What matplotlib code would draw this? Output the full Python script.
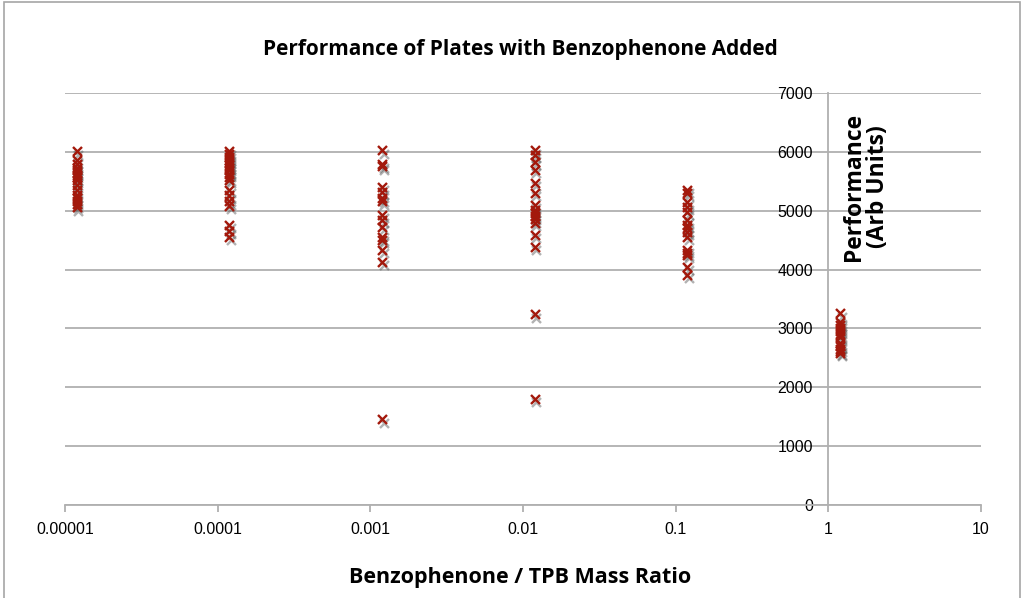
import matplotlib
matplotlib.use("Agg")
import matplotlib.pyplot as plt
import matplotlib.patheffects as pe
from matplotlib.patches import Rectangle
import numpy as np

ratios = [1.2e-5, 1.2e-4, 1.2e-3, 1.2e-2, 0.12, 1.2]
perf_1e5 = [6000, 5850, 5780, 5720, 5680, 5640, 5600, 5560, 5520, 5430, 5350, 5260, 5200, 5150, 5100, 5050]
perf_1e4 = [6000, 5950, 5900, 5850, 5800, 5760, 5720, 5680, 5620, 5560, 5520, 5350, 5250, 5150, 5080, 4750, 4650, 4550]
perf_1e3 = [6020, 5780, 5750, 5400, 5310, 5200, 5150, 4920, 4840, 4720, 4540, 4500, 4330, 4125, 1450]
perf_1e2 = [6020, 5940, 5820, 5690, 5470, 5300, 5090, 5010, 4950, 4900, 4850, 4790, 4580, 4380, 3230, 1800]
perf_1e1 = [5350, 5300, 5140, 5060, 4975, 4840, 4750, 4690, 4630, 4550, 4330, 4280, 4245, 4040, 3900]
perf_1e0 = [3250, 3100, 3050, 3000, 2950, 2900, 2850, 2750, 2700, 2650, 2600, 2580]
groups = [perf_1e5, perf_1e4, perf_1e3, perf_1e2, perf_1e1, perf_1e0]

xticks = [1e-5, 1e-4, 1e-3, 1e-2, 1e-1, 1, 10]
xticklabels = ["0.00001", "0.0001", "0.001", "0.01", "0.1", "1", "10"]
yticks = [0, 1000, 2000, 3000, 4000, 5000, 6000, 7000]

W, H = 1021, 598
fig = plt.figure(figsize=(W / 100, H / 100), dpi=100)
fig.patches.append(Rectangle((4 / W, -0.01), (W - 5) / W, (H - 2) / H + 0.01,
                             transform=fig.transFigure, fill=False,
                             edgecolor="#a6a6a6", linewidth=1.2))
ax = fig.add_axes([65 / W, (H - 505) / H, (981 - 65) / W, (505 - 93) / H])

xs = np.concatenate([[r] * len(g) for r, g in zip(ratios, groups)])
ys = np.concatenate(groups)
ax.plot(xs, ys, linestyle="none", marker="x", markersize=6.5, markeredgewidth=1.7,
        color="#a3190c", zorder=3,
        path_effects=[pe.SimpleLineShadow(offset=(1.2, -2.5), shadow_color="#555555", alpha=0.45),
                      pe.Normal()])

ax.set_xscale("log")
ax.set_xlim(1e-5, 10)
ax.set_ylim(0, 7000)
ax.set_xticks(xticks)
ax.set_xticklabels(xticklabels)
ax.xaxis.set_minor_locator(matplotlib.ticker.NullLocator())
ax.set_yticks(yticks)
ax.yaxis.grid(True, color="#b0b0b0", linewidth=1.3)
ax.set_axisbelow(True)

for s in ["top", "right"]:
    ax.spines[s].set_visible(False)
ax.spines["left"].set_position(("data", 1))
ax.spines["left"].set_color("#b0b0b0")
ax.spines["left"].set_linewidth(1.3)
ax.spines["bottom"].set_color("#b0b0b0")
ax.spines["bottom"].set_linewidth(1.3)
ax.tick_params(axis="x", direction="out", length=5, width=1.3, color="#b0b0b0",
               labelsize=11.5, pad=7)
ax.tick_params(axis="y", direction="out", length=0, width=1.3, color="#b0b0b0",
               labelsize=11.5, pad=11)
for lab in ax.get_xticklabels() + ax.get_yticklabels():
    lab.set_fontfamily("Liberation Sans")

fig.text(520 / W, 1 - 50 / H, "Performance of Plates with Benzophenone Added",
         ha="center", va="center", fontsize=15, fontweight="bold", family="Open Sans")
fig.text(520 / W, 1 - 578 / H, "Benzophenone / TPB Mass Ratio",
         ha="center", va="center", fontsize=15.5, fontweight="bold", family="Open Sans")
fig.text(866 / W, 1 - 187 / H, "Performance\n(Arb Units)", rotation=90,
         ha="center", va="center", fontsize=16.5, fontweight="bold", family="Open Sans",
         linespacing=1.0)

fig.savefig("out.png", dpi=100)
